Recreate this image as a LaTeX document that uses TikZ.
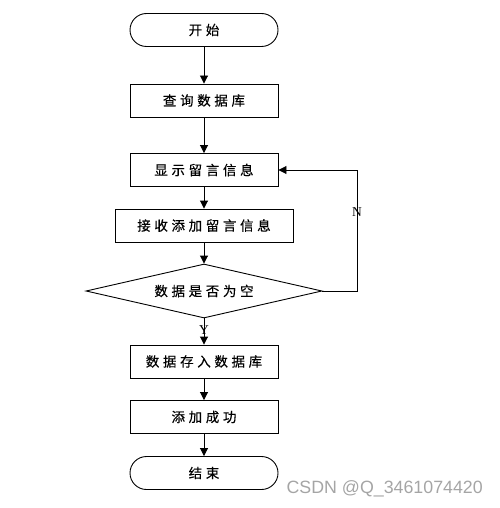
\documentclass[tikz,border=0pt]{standalone}
\usepackage{fontspec}
\newfontfamily\cjk[LetterSpace=27,FakeBold=0.3]{Noto Sans CJK SC}
\newfontfamily\lat{Liberation Serif}
\newfontfamily\wm{Liberation Sans}
\usetikzlibrary{arrows.meta,shapes.geometric}
\definecolor{wmgray}{RGB}{165,165,165}
\begin{document}
\begin{tikzpicture}[x=1pt,y=-1pt,
  every node/.style={font=\cjk\fontsize{13.5}{15}\selectfont},
  proc/.style={draw,line width=0.9pt,minimum width=148pt,minimum height=33pt,inner sep=0pt},
  term/.style={draw,line width=0.9pt,rounded corners=16.5pt,minimum width=148pt,minimum height=33pt,inner sep=0pt},
  dec/.style={draw,diamond,aspect=4.37,line width=0.9pt,minimum width=236pt,minimum height=54pt,inner sep=0pt},
  arr/.style={draw,line width=0.9pt,-{Triangle[length=8pt,width=8pt]}},
  lbl/.style={font=\lat\fontsize{13.5}{15}\selectfont,inner sep=0pt}]
\useasboundingbox (0,0) rectangle (499,508);
\node[term] (start) at (204,30) {开始};
\node[proc] (query) at (204,100.5) {查询数据库};
\node[proc] (show) at (204,170) {显示留言信息};
\node[proc,minimum width=178pt] (recv) at (204,225.5) {接收添加留言信息};
\node[dec] (cond) at (204,291) {数据是否为空};
\node[proc] (save) at (204,361.5) {数据存入数据库};
\node[proc] (ok) at (204,417) {添加成功};
\node[term] (end) at (204,473) {结束};
\coordinate (c1) at (357,291);
\coordinate (c2) at (357,170);
\draw[arr] (start) -- (query);
\draw[arr] (query) -- (show);
\draw[arr] (show) -- (recv);
\draw[arr] (recv) -- (cond);
\draw[arr] (cond) -- (save);
\node[lbl] (ylab) at (204,330) {Y};
\draw[arr] (save) -- (ok);
\draw[arr] (ok) -- (end);
\draw[arr] (cond.east) -- (c1) -- (c2) -- (show.east);
\node[lbl] (nlab) at (357,212) {N};
\node[font=\wm\fontsize{17.8}{19}\selectfont,text=wmgray,anchor=east,inner sep=0pt] (wmk) at (483,489) {CSDN @Q\_3461074420};
\end{tikzpicture}
\end{document}
